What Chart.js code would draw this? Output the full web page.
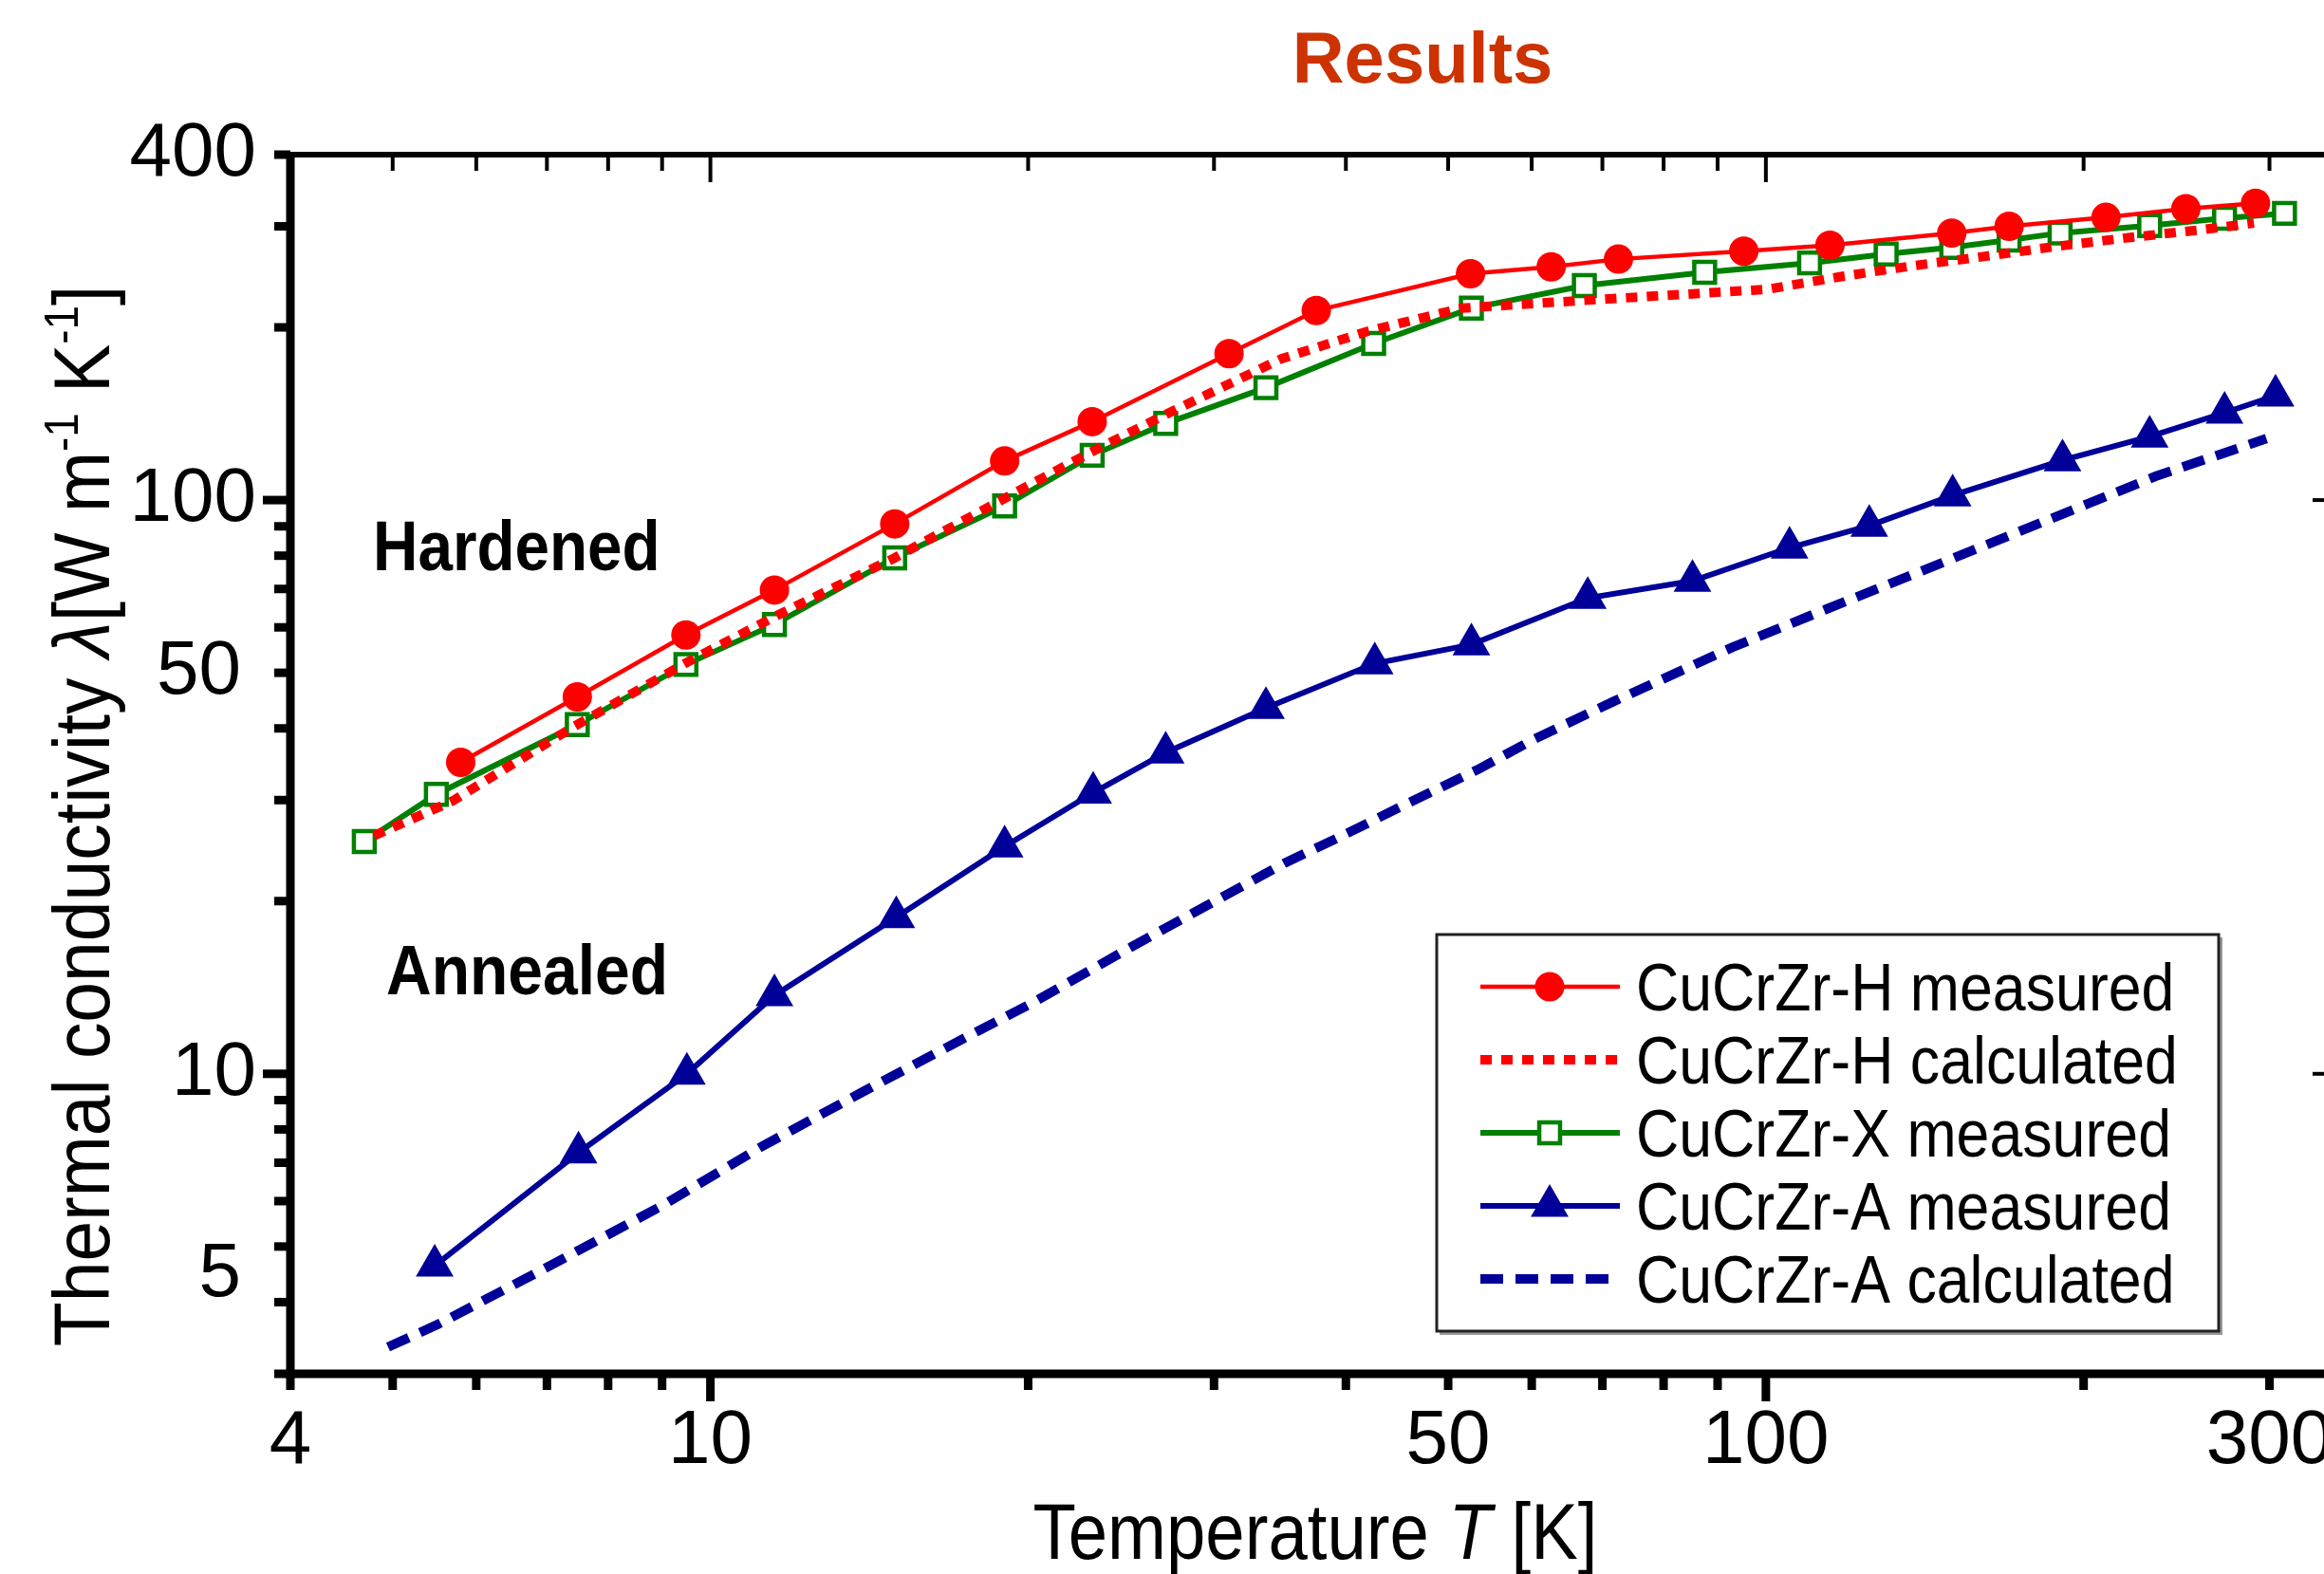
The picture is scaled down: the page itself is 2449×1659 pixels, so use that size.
<!DOCTYPE html>
<html>
<head>
<meta charset="utf-8">
<script src="https://cdn.jsdelivr.net/npm/chart.js@4.4.1/dist/chart.umd.min.js"></script>
<style>
  html, body { margin: 0; padding: 0; background: #fff; overflow: hidden; }
  #wrap { width: 2449px; height: 1659px; overflow: hidden; }
</style>
</head>
<body>
<div id="wrap"><canvas id="chart" width="2500" height="1659"></canvas></div>
<script>
// values (T in K, conductivity in W/m/K)
const tempH     = [5.8, 7.48, 9.48, 11.5, 14.95, 19.0, 23.0, 31.0, 37.5, 52.5, 62.6, 72.5, 95.3, 115, 150, 170, 210, 250, 291];
const condH     = [34.9, 45.4, 58.2, 69.7, 90.9, 117, 137, 180, 214, 248, 255, 263, 271.5, 278, 292, 300, 311, 322, 329];

const tempHcalc = [4.8, 5.7, 7.41, 9.53, 11.6, 14.95, 19.0, 22.8, 27.1, 34.8, 42.0, 51.5, 62.4, 79.1, 100.4, 117.5, 137.6, 161.4, 189, 221.6, 259, 290];
const condHcalc = [26.0, 29.9, 40.2, 52.3, 63.1, 79.3, 100.7, 120.5, 141.5, 176.5, 197, 216, 221, 227, 233, 245, 256, 266, 277, 287, 296, 304];

const tempX     = [4.7, 5.5, 7.48, 9.48, 11.5, 14.95, 19.0, 23.0, 27.0, 33.6, 42.5, 52.6, 67.3, 87.5, 110, 130, 150, 170, 190, 231, 272, 310];
const condX     = [25.4, 30.7, 40.6, 51.7, 60.7, 79.3, 97.7, 119.7, 136, 157, 187.5, 216, 236.5, 249.5, 259, 268.5, 275.6, 284, 292, 301, 310, 316];

const tempA     = [5.48, 7.5, 9.5, 11.5, 15.0, 19.0, 23.05, 27.0, 33.6, 42.6, 52.6, 67.8, 85.2, 105.3, 125.3, 150.3, 191, 231, 272, 304];
const condA     = [4.63, 7.29, 10.0, 13.7, 18.75, 24.9, 30.9, 36.3, 43.4, 51.9, 56.0, 67.5, 72.3, 82.6, 90.2, 101.9, 117.3, 129, 142, 152];

const tempAcalc = [4.95, 5.52, 6.94, 9.0, 11.2, 14.0, 17.5, 20.2, 25.0, 29.9, 35.0, 40.2, 44.9, 53.5, 60.3, 71.8, 93, 114, 147.5, 186, 234, 298];
const condAcalc = [3.34, 3.66, 4.56, 5.89, 7.48, 9.34, 11.6, 13.3, 16.6, 19.9, 23.3, 26.3, 29.1, 34.0, 38.3, 44.6, 55.4, 64.5, 78, 92.7, 110, 128];

const seriesNames = ['CuCrZr-H measured', 'CuCrZr-H calculated', 'CuCrZr-X measured', 'CuCrZr-A measured', 'CuCrZr-A calculated'];

// axis ticks
const xTicks  = [4, 5, 6, 7, 8, 9, 10, 20, 30, 40, 50, 60, 70, 80, 90, 100, 200, 300];
const xMajor  = [10, 100];
const xLabels = [4, 10, 50, 100, 300];
const yTicks  = [3, 4, 5, 6, 7, 8, 9, 10, 20, 30, 40, 50, 60, 70, 80, 90, 100, 200, 300, 400];
const yMajor  = [10, 100];
const yLabels = [5, 10, 50, 100, 400];

const FONT = '"Liberation Sans", Arial, sans-serif';

function pts(xs, ys) {
  return xs.map((v, i) => ({ x: v, y: ys[i] }));
}

function line(ctx, x1, y1, x2, y2, w) {
  ctx.lineWidth = w;
  ctx.beginPath();
  ctx.moveTo(x1, y1);
  ctx.lineTo(x2, y2);
  ctx.stroke();
}

// draws text made of parts [text, font, dy] horizontally squeezed by sx
function drawRich(ctx, parts, x, y, sx, align) {
  let w = 0;
  parts.forEach(p => { ctx.font = p[1]; w += ctx.measureText(p[0]).width; });
  ctx.save();
  ctx.translate(x, y);
  ctx.scale(sx, 1);
  let cx = align === 'center' ? -w / 2 : 0;
  parts.forEach(p => {
    ctx.font = p[1];
    ctx.fillText(p[0], cx, p[2] || 0);
    cx += ctx.measureText(p[0]).width;
  });
  ctx.restore();
}

// minor-decade labels sit a bit off in the original
function yLabel(v) {
  if (!yLabels.includes(v)) return '';
  if (v === 5) return ['', '5\u2009'];
  if (v === 50) return '50\u2009';
  return String(v);
}

const decor = {
  id: 'decor',
  afterDraw(chart) {
    const { ctx, chartArea: a, scales: { x, y } } = chart;
    ctx.save();
    ctx.strokeStyle = '#000';
    ctx.fillStyle = '#000';
    ctx.lineCap = 'butt';

    // frame
    line(ctx, a.left, a.top, a.right + 3, a.top, 6);
    line(ctx, a.right, a.top, a.right, a.bottom, 6);
    line(ctx, a.left - 4.5, a.bottom, a.right + 3, a.bottom, 9);
    line(ctx, a.left, a.top - 3, a.left, a.bottom + 4.5, 9);

    // ticks: outward on bottom/left, inward on top/right
    xTicks.forEach(v => {
      const px = x.getPixelForValue(v);
      const len = xMajor.includes(v) ? 29 : 17;
      line(ctx, px, a.bottom, px, a.bottom + len, 9);
      if (v > 4) line(ctx, px, a.top, px, a.top + len, 4);
    });
    yTicks.forEach(v => {
      const py = y.getPixelForValue(v);
      const len = yMajor.includes(v) ? 29 : 17;
      line(ctx, a.left - len, py, a.left, py, 9);
      line(ctx, a.right - len, py, a.right, py, 4);
    });

    // title
    ctx.textAlign = 'center';
    ctx.textBaseline = 'alphabetic';
    ctx.fillStyle = '#cc3300';
    ctx.font = 'bold 76px ' + FONT;
    ctx.fillText('Results', 1499, 87);

    ctx.textAlign = 'left';
    ctx.fillStyle = '#000';

    // axis titles
    drawRich(ctx, [
      ['Temperature ', '84px ' + FONT],
      ['T', 'italic 84px ' + FONT],
      [' [K]', '84px ' + FONT]
    ], (a.left + a.right) / 2, 1643, 0.885, 'center');

    ctx.save();
    ctx.translate(115, 860);
    ctx.rotate(-Math.PI / 2);
    drawRich(ctx, [
      ['Thermal conductivity ', '84px ' + FONT],
      ['λ', 'italic 84px ' + FONT],
      ['[W m', '84px ' + FONT],
      ['-1', '50px ' + FONT, -33],
      [' K', '84px ' + FONT],
      ['-1', '50px ' + FONT, -33],
      [']', '84px ' + FONT]
    ], 0, 0, 0.915, 'center');
    ctx.restore();

    // annotations
    drawRich(ctx, [['Hardened', 'bold 75px ' + FONT]], 393, 601, 0.875, 'left');
    drawRich(ctx, [['Annealed', 'bold 75px ' + FONT]], 407, 1048, 0.88, 'left');

    // legend
    ctx.fillStyle = '#999';
    ctx.fillRect(1517, 988, 825, 419);
    ctx.fillStyle = '#fff';
    ctx.fillRect(1514, 985, 824, 418);
    ctx.strokeStyle = '#222';
    ctx.lineWidth = 3;
    ctx.strokeRect(1514, 985, 824, 418);

    chart.data.datasets.forEach((ds, i) => {
      const cy = 1040 + i * 77;
      ctx.strokeStyle = ds.borderColor;
      ctx.setLineDash(ds.borderDash || []);
      line(ctx, 1560, cy, 1707, cy, ds.borderWidth);
      ctx.setLineDash([]);
      if (ds.pointRadius > 0) {
        ctx.fillStyle = ds.pointBackgroundColor;
        ctx.strokeStyle = ds.pointBorderColor;
        ctx.lineWidth = ds.pointBorderWidth;
        Chart.helpers.drawPoint(ctx, {
          pointStyle: ds.pointStyle, rotation: 0,
          radius: ds.pointRadius, borderWidth: ds.pointBorderWidth
        }, 1633, cy);
      }
      ctx.fillStyle = '#000';
      drawRich(ctx, [[ds.label, '70px ' + FONT]], 1724, cy + 25, 0.895, 'left');
    });

    ctx.restore();
  }
};

new Chart(document.getElementById('chart'), {
  type: 'line',
  data: {
    datasets: [
      {
        label: seriesNames[0], data: pts(tempH, condH),
        borderColor: '#ff0000', borderWidth: 4.5,
        pointStyle: 'circle', pointRadius: 15.5,
        pointBackgroundColor: '#ff0000', pointBorderColor: '#ff0000', pointBorderWidth: 0
      },
      {
        label: seriesNames[1], data: pts(tempHcalc, condHcalc),
        borderColor: '#ff0000', borderWidth: 10, borderDash: [12, 10], pointRadius: 0
      },
      {
        label: seriesNames[2], data: pts(tempX, condX),
        borderColor: '#008000', borderWidth: 6,
        pointStyle: 'rect', pointRadius: 15.5,
        pointBackgroundColor: '#ffffff', pointBorderColor: '#008000', pointBorderWidth: 4.5
      },
      {
        label: seriesNames[3], data: pts(tempA, condA),
        borderColor: '#000099', borderWidth: 6,
        pointStyle: 'triangle', pointRadius: 23,
        pointBackgroundColor: '#000099', pointBorderColor: '#000099', pointBorderWidth: 0
      },
      {
        label: seriesNames[4], data: pts(tempAcalc, condAcalc),
        borderColor: '#000099', borderWidth: 10, borderDash: [24, 13], pointRadius: 0
      }
    ]
  },
  options: {
    responsive: false,
    animation: false,
    devicePixelRatio: 1,
    events: [],
    layout: { padding: { top: 163, right: 34, left: 0, bottom: 0 } },
    elements: { line: { tension: 0, fill: false } },
    plugins: { legend: { display: false }, title: { display: false }, tooltip: { enabled: false } },
    scales: {
      x: {
        type: 'logarithmic', position: 'bottom', min: 4, max: 350,
        afterBuildTicks: s => { s.ticks = xTicks.map(v => ({ value: v })); },
        afterFit: s => { s.height = 211; },
        grid: { display: false, drawTicks: false },
        border: { display: false },
        ticks: {
          autoSkip: false, maxRotation: 0, minRotation: 0, padding: 24, color: '#000',
          font: { family: FONT, size: 80 },
          callback: v => xLabels.includes(v) ? String(v) : ''
        }
      },
      y: {
        type: 'logarithmic', position: 'left', min: 3, max: 400,
        afterBuildTicks: s => { s.ticks = yTicks.map(v => ({ value: v })); },
        afterFit: s => { s.width = 306; },
        grid: { display: false, drawTicks: false },
        border: { display: false },
        ticks: {
          autoSkip: false, padding: 36, color: '#000',
          font: c => ({ family: FONT, size: 80, lineHeight: c.tick && c.tick.value === 5 ? 0.75 : 1.2 }),
          callback: v => yLabel(v)
        }
      }
    }
  },
  plugins: [decor]
});
</script>
</body>
</html>
